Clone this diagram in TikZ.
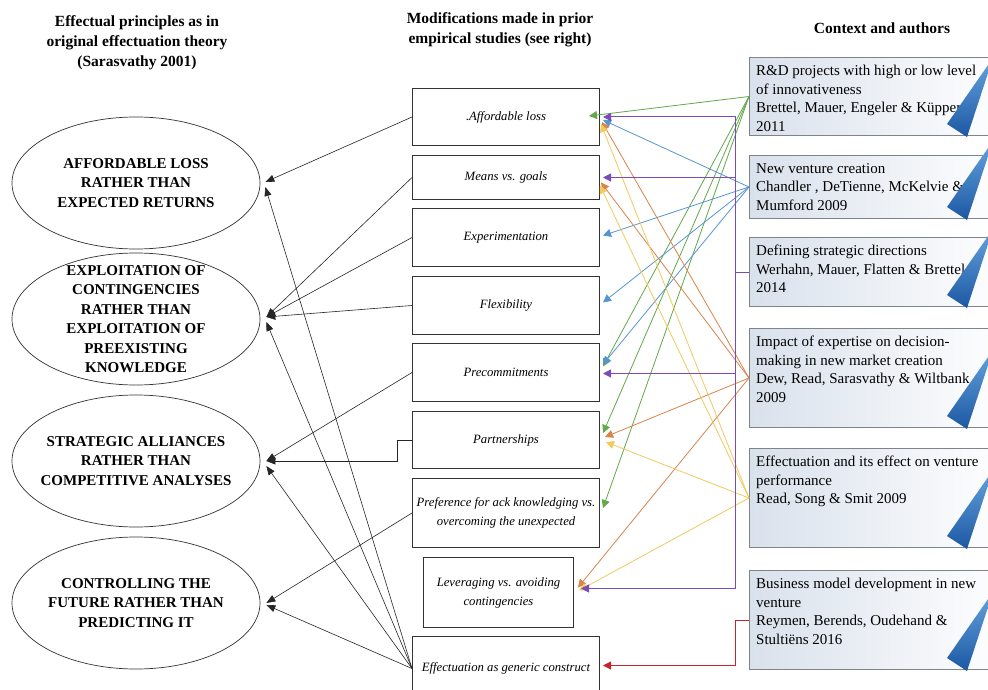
\documentclass[tikz,border=0pt]{standalone}
\usepackage{fontspec}
\setmainfont{Liberation Serif}
\usetikzlibrary{arrows.meta,shapes.geometric}

\definecolor{lgreen}{HTML}{63A84A}
\definecolor{lpurple}{HTML}{7A4CB8}
\definecolor{lblue}{HTML}{5696D0}
\definecolor{lorange}{HTML}{D8844A}
\definecolor{lyellow}{HTML}{EFCB5E}
\definecolor{lred}{HTML}{C0262C}
\definecolor{wedgeA}{HTML}{64A3DE}
\definecolor{wedgeB}{HTML}{1C58A3}
\definecolor{boxgray}{HTML}{7F848B}
\definecolor{boxtint}{HTML}{D9E1EC}

\tikzset{
  principle/.style={ellipse, draw=black!80, line width=0.7pt, fill=white,
    minimum width=248pt, minimum height=132pt, inner sep=0pt},
  principletext/.style={align=center, inner sep=0pt,
    font=\fontsize{15}{19.5}\selectfont\bfseries},
  modbox/.style={draw=black!80, line width=1pt, fill=white, anchor=north west,
    inner sep=0pt, align=center, font=\fontsize{12.7}{19}\selectfont\itshape},
  ctxbox/.style={draw=boxgray, line width=1pt, left color=boxtint, right color=white,
    anchor=north west, inner sep=0pt, minimum width=260pt},
  ctxtext/.style={anchor=north west, inner sep=0pt, align=left,
    font=\fontsize{15}{18.5}\selectfont},
  heading/.style={align=center, inner sep=0pt, font=\fontsize{15.5}{20}\selectfont\bfseries},
  toprinciple/.style={draw=black!85, line width=0.6pt, -{Triangle[length=9pt,width=7pt]}},
  studylink/.style={line width=0.8pt, -{Triangle[length=8pt,width=8pt]}},
  wedge/.style={top color=wedgeA, bottom color=wedgeB, draw=none}
}

\begin{document}
\begin{tikzpicture}[x=1pt,y=-1pt]
\useasboundingbox (0,0) rectangle (988,690);
\clip (0,0) rectangle (988,690);
\fill[white] (0,0) rectangle (988,690);

% column headings
\node[heading] (h1) at (137,43) {Effectual principles as in\\original effectuation theory\\(Sarasvathy 2001)};
\node[heading] (h2) at (500,30) {Modifications made in prior\\empirical studies (see right)};
\node[heading] (h3) at (882,28) {Context and authors};

% context boxes (right column)
\node[ctxbox, minimum height=78pt] (R1) at (749,57) {};
\node[ctxbox, minimum height=63pt] (R2) at (749,155) {};
\node[ctxbox, minimum height=69pt] (R3) at (749,237) {};
\node[ctxbox, minimum height=99pt] (R4) at (749,328) {};
\node[ctxbox, minimum height=99pt] (R5) at (749,448) {};
\node[ctxbox, minimum height=99pt] (R6) at (749,570) {};

\node[ctxtext] (t1) at ([shift={(7,8)}]R1.north west) {R\&D projects with high or low level\\of innovativeness\\Brettel, Mauer, Engeler \& Küpper\\2011};
\node[ctxtext] (t2) at ([shift={(7,8)}]R2.north west) {New venture creation\\Chandler , DeTienne, McKelvie \&\\Mumford 2009};
\node[ctxtext] (t3) at ([shift={(7,8)}]R3.north west) {Defining strategic directions\\Werhahn, Mauer, Flatten \& Brettel\\2014};
\node[ctxtext] (t4) at ([shift={(7,8)}]R4.north west) {Impact of expertise on decision-\\making in new market creation\\Dew, Read, Sarasvathy \& Wiltbank\\2009};
\node[ctxtext] (t5) at ([shift={(7,8)}]R5.north west) {Effectuation and its effect on venture\\performance\\Read, Song \& Smit 2009};
\node[ctxtext] (t6) at ([shift={(7,8)}]R6.north west) {Business model development in new\\venture\\Reymen, Berends, Oudehand \&\\Stultiëns 2016};

% blue wedges on the context boxes
\foreach \r in {R1,R2,R3,R4,R5,R6}
  \shade[wedge] ([shift={(198,-12)}]\r.south west) -- ([shift={(218,1)}]\r.south west)
    -- ([shift={(244,-78)}]\r.south west) -- cycle;

% modification boxes (middle column)
\node[modbox, minimum width=187pt, minimum height=57pt] (A) at (412,88) {.Affordable loss};
\node[modbox, minimum width=187pt, minimum height=44pt] (B) at (412,155) {Means vs. goals};
\node[modbox, minimum width=187pt, minimum height=58pt] (C) at (412,208) {Experimentation};
\node[modbox, minimum width=187pt, minimum height=58pt] (D) at (412,276) {Flexibility};
\node[modbox, minimum width=187pt, minimum height=58pt] (E) at (412,343) {Precommitments};
\node[modbox, minimum width=187pt, minimum height=57pt] (F) at (412,411) {Partnerships};
\node[modbox, minimum width=187pt, minimum height=69pt] (G) at (412,478) {Preference for ack knowledging vs.\\overcoming the unexpected};
\node[modbox, minimum width=150pt, minimum height=70pt] (H) at (423,557) {Leveraging vs. avoiding\\contingencies};
\node[modbox, minimum width=187pt, minimum height=64pt] (I) at (412,636) {Effectuation as generic construct};

% effectual principles (left column)
\node[principle] (E1) at (136,183) {};
\node[principle] (E2) at (136,319) {};
\node[principle] (E3) at (136,461) {};
\node[principle] (E4) at (136,603) {};
\node[principletext] (p1) at (E1) {AFFORDABLE LOSS\\RATHER THAN\\EXPECTED RETURNS};
\node[principletext] (p2) at (E2) {EXPLOITATION OF\\CONTINGENCIES\\RATHER THAN\\EXPLOITATION OF\\PREEXISTING\\KNOWLEDGE};
\node[principletext] (p3) at (E3) {STRATEGIC ALLIANCES\\RATHER THAN\\COMPETITIVE ANALYSES};
\node[principletext] (p4) at (E4) {CONTROLLING THE\\FUTURE RATHER THAN\\PREDICTING IT};

% modifications mapped onto the original principles
\draw[toprinciple] (A.west) -- ([shift={(5,-1)}]E1.east);
\draw[toprinciple] (I.west) -- ([shift={(5,4)}]E1.east);
\draw[toprinciple] (B.west) -- ([shift={(6,-2)}]E2.east);
\draw[toprinciple] (C.west) -- ([shift={(6,-2)}]E2.east);
\draw[toprinciple] (D.west) -- ([shift={(6,-2)}]E2.east);
\draw[toprinciple] (I.west) -- ([shift={(6,3)}]E2.east);
\draw[toprinciple] (E.west) -- ([shift={(6,0)}]E3.east);
\draw[toprinciple] (F.west) -- ++(-15,0) |- ([shift={(6,0)}]E3.east);
\draw[toprinciple] (I.west) -- ([shift={(6,5)}]E3.east);
\draw[toprinciple] (G.west) -- ([shift={(6,0)}]E4.east);
\draw[toprinciple] (I.west) -- ([shift={(6,2)}]E4.east);

% studies: R&D projects (green)
\draw[studylink, lgreen] (R1.west) -- ([shift={(-11,-1)}]A.east);
\draw[studylink, lgreen] (R1.west) -- ([shift={(3,-6)}]E.east);
\draw[studylink, lgreen] (R1.west) -- ([shift={(3,-7)}]F.east);
\draw[studylink, lgreen] (R1.west) -- ([shift={(3,-5)}]G.east);

% studies: new venture creation (blue)
\draw[studylink, lblue] (R2.west) -- ([shift={(3,3)}]A.east);
\draw[studylink, lblue] (R2.west) -- ([shift={(3,-2)}]C.east);
\draw[studylink, lblue] (R2.west) -- ([shift={(3,-3)}]D.east);
\draw[studylink, lblue] (R2.west) -- ([shift={(3,-8)}]E.east);

% studies: impact of expertise (orange)
\draw[studylink, lorange] (R4.west) -- ([shift={(2,5)}]A.east);
\draw[studylink, lorange] (R4.west) -- ([shift={(1,5)}]B.east);
\draw[studylink, lorange] (R4.west) -- ([shift={(5,-3)}]F.east);
\draw[studylink, lorange] (R4.west) -- ([shift={(4,-5)}]H.east);

% studies: venture performance (yellow)
\draw[studylink, lyellow] (R5.west) -- ([shift={(1,7)}]A.east);
\draw[studylink, lyellow] (R5.west) -- ([shift={(0,8)}]B.east);
\draw[studylink, lyellow] (R5.west) -- ([shift={(6,2)}]F.east);
\draw[studylink, lyellow] (R5.west) -- ([shift={(5,-2)}]H.east);

% studies: strategic directions (purple bus)
\draw[studylink, lpurple, line width=1pt] (R3.west) -- ++(-14,0) |- ([shift={(3,0)}]A.east);
\draw[studylink, lpurple, line width=1pt] (R3.west) -- ++(-14,0) |- ([shift={(3,0)}]B.east);
\draw[studylink, lpurple, line width=1pt] (R3.west) -- ++(-14,0) |- ([shift={(3,1)}]E.east);
\draw[studylink, lpurple, line width=1pt] (R3.west) -- ++(-14,0) |- ([shift={(7,-4)}]H.east);

% studies: business model development (red)
\draw[studylink, lred, line width=1pt] (R6.west) -- ++(-14,0) |- ([shift={(3,-3)}]I.east);
\end{tikzpicture}
\end{document}
